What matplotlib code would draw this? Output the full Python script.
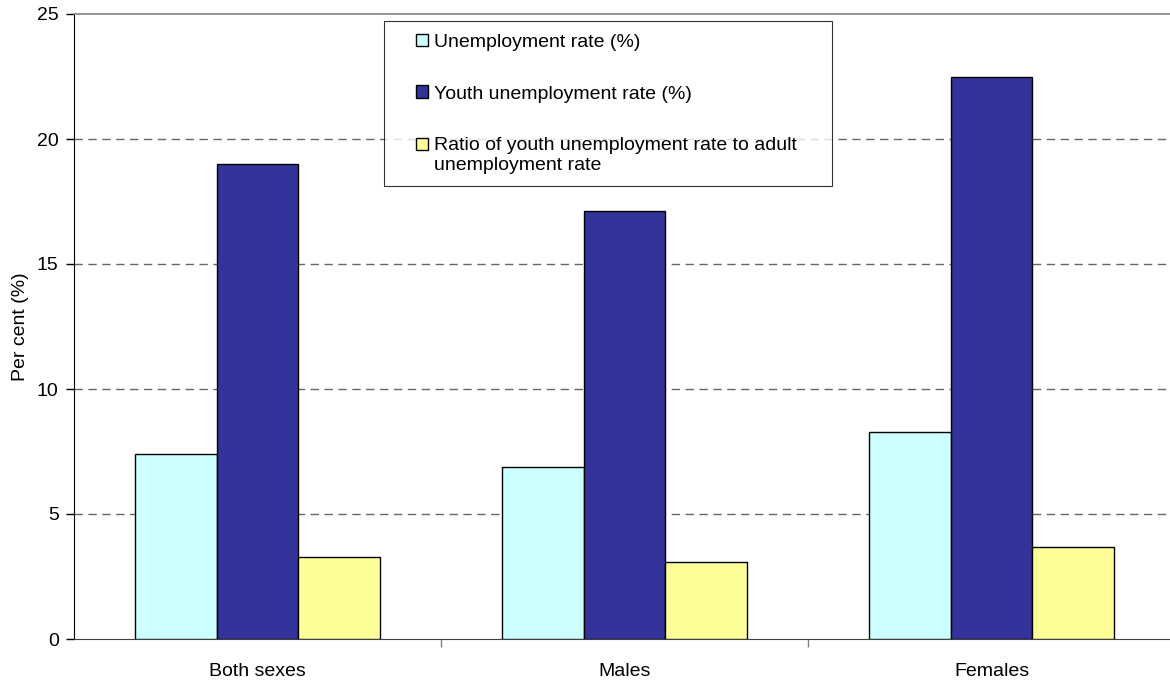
import numpy as np
import matplotlib
matplotlib.use('Agg')
import matplotlib.pyplot as plt

plt.rcParams['font.family'] = ['Liberation Sans', 'DejaVu Sans']

# data
categories = ['Both sexes', 'Males', 'Females']
unemployment = [7.4, 6.9, 8.3]
youth_unemployment = [19.0, 17.1, 22.5]
ratio_youth_adult = [3.3, 3.1, 3.7]

series_labels = ['Unemployment rate (%)',
                 'Youth unemployment rate (%)',
                 'Ratio of youth unemployment rate to adult\nunemployment rate']
colors = ['#CCFFFF', '#333399', '#FFFF99']

W, H = 1170, 683
FS = 14
fig = plt.figure(figsize=(W / 100, H / 100), dpi=100)
ax = fig.add_axes([74 / W, 44 / H, (1175 - 74) / W, 625 / H])

x = np.arange(len(categories))
bw = 0.2234
for i, (vals, lab, c) in enumerate(zip([unemployment, youth_unemployment, ratio_youth_adult],
                                       series_labels, colors)):
    ax.bar(x + (i - 1) * bw, vals, bw, color=c, edgecolor='black', linewidth=1.0,
           label=lab, zorder=3)

ax.set_xlim(-0.5, len(categories) - 0.5)
ax.set_ylim(0, 25)
ax.set_yticks([0, 5, 10, 15, 20, 25])
ax.tick_params(axis='y', labelsize=FS, length=6, width=1, direction='out', pad=5)

ax.set_xticks(x)
ax.set_xticklabels(categories, fontsize=FS)
ax.tick_params(axis='x', which='major', length=0, pad=17)
ax.set_xticks(x[:-1] + 0.5, minor=True)
ax.tick_params(axis='x', which='minor', length=6, width=1, color='#808080')

for yv in [5, 10, 15, 20]:
    ax.axhline(yv, color='#666666', linestyle=(0, (6, 4)), linewidth=1.0, zorder=1)

ax.spines['right'].set_visible(False)
ax.spines['top'].set_color('#808080')
ax.spines['top'].set_linewidth(1.2)
ax.spines['bottom'].set_color('#404040')
ax.spines['left'].set_color('black')

ax.set_ylabel('Per cent (%)', fontsize=FS, labelpad=5.5)

hl = 1.6   # wide handle slot, the square itself is shrunk below
hs = 0.62
leg = ax.legend(loc='upper left',
                bbox_to_anchor=(384 / W, (683 - 181) / H, 448 / W, 160 / H),
                bbox_transform=fig.transFigure, mode='expand',
                fontsize=FS, frameon=True, fancybox=False, edgecolor='black',
                handlelength=hl, handleheight=hs, handletextpad=0.3,
                labelspacing=1.78, borderpad=0.65, borderaxespad=0)
leg.get_frame().set_linewidth(0.8)
for k, p in enumerate(leg.get_patches()):
    p.set_x(p.get_x() + (hl - hs) * FS)
    p.set_width(hs * FS)
    if '\n' in series_labels[k]:
        p.set_y(p.get_y() + 0.58 * FS)

fig.savefig('out.png', dpi=100)
